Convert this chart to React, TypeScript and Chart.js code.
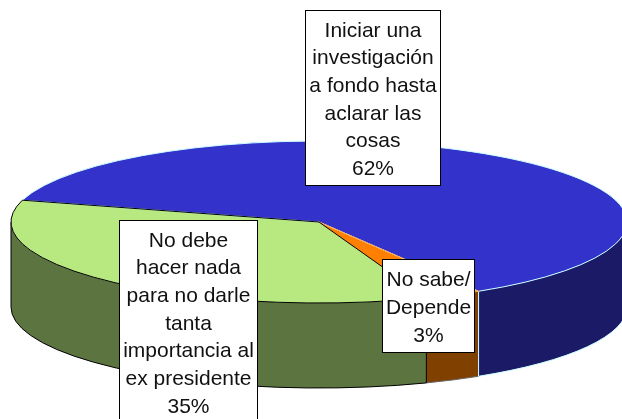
import React, { useEffect, useRef } from "react";
import { Chart, registerables } from "chart.js";

Chart.register(...registerables);

const categories = ["Iniciar una investigación a fondo hasta aclarar las cosas", "No sabe/Depende", "No debe hacer nada para no darle tanta importancia al ex presidente"];
const values = [62, 3, 35];
const topColors = ["#3333CC", "#FF8000", "#B8E880"];
const wallColors = ["#1A1A66", "#804000", "#5C7440"];
const edgeColors = ["#CCFFFF", "#FFA040", "#000000"];
const labelLines = [
  ["Iniciar una", "investigación", "a fondo hasta", "aclarar las", "cosas", "62%"],
  ["No sabe/", "Depende", "3%"],
  ["No debe", "hacer nada", "para no darle", "tanta", "importancia al", "ex presidente", "35%"],
];

// Pie projection
const CX = 319;
const CY = 222;
const RX = 308;
const RY = 81;
const DEPTH = 85;
const ROTATION = 285.6;

const boxes = [
  { x: 305, y: 10, w: 136, h: 176, first: 31, step: 27.6 },
  { x: 382, y: 259, w: 93, h: 94, first: 280, step: 28 },
  { x: 119, y: 220, w: 139, h: 210, first: 241, step: 27.67 },
];

function wallSpans(s: number, e: number): [number, number][] {
  const out: [number, number][] = [];
  for (const [a, b] of [[0, Math.PI], [2 * Math.PI, 3 * Math.PI]]) {
    const lo = Math.max(s, a);
    const hi = Math.min(e, b);
    if (hi > lo) out.push([lo, hi]);
  }
  return out;
}

const pie3d = {
  id: "pie3d",
  beforeDatasetDraw(chart: any, args: any) {
    const ctx = chart.ctx;
    const arcs = args.meta.data;
    ctx.save();
    ctx.lineWidth = 1;
    arcs.forEach((arc: any, i: number) => {
      for (const [a, b] of wallSpans(arc.startAngle, arc.endAngle)) {
        ctx.beginPath();
        ctx.ellipse(CX, CY, RX, RY, 0, a, b);
        ctx.lineTo(CX + RX * Math.cos(b), CY + DEPTH + RY * Math.sin(b));
        ctx.ellipse(CX, CY + DEPTH, RX, RY, 0, b, a, true);
        ctx.closePath();
        ctx.fillStyle = wallColors[i];
        ctx.fill();
      }
    });
    [1, 0, 2].forEach((i) => {
      const arc = arcs[i];
      for (const [a, b] of wallSpans(arc.startAngle, arc.endAngle)) {
        ctx.beginPath();
        ctx.moveTo(CX + RX * Math.cos(a), CY + RY * Math.sin(a));
        ctx.lineTo(CX + RX * Math.cos(a), CY + DEPTH + RY * Math.sin(a));
        ctx.ellipse(CX, CY + DEPTH, RX, RY, 0, a, b);
        ctx.lineTo(CX + RX * Math.cos(b), CY + RY * Math.sin(b));
        ctx.strokeStyle = i === 1 ? "#666666" : edgeColors[i];
        ctx.stroke();
      }
    });
    ctx.restore();
    const k = RY / RX;
    const ref = arcs[0];
    ctx.save();
    ctx.translate(CX, CY);
    ctx.scale(1, k);
    ctx.translate(-ref.x, -ref.y);
  },
  afterDatasetDraw(chart: any, args: any) {
    const ctx = chart.ctx;
    ctx.restore();
    ctx.save();
    ctx.lineWidth = 1;
    ctx.lineJoin = "round";
    [0, 1, 2].forEach((i) => {
      const arc = args.meta.data[i];
      ctx.beginPath();
      ctx.moveTo(CX, CY);
      ctx.ellipse(CX, CY, RX, RY, 0, arc.startAngle, arc.endAngle);
      ctx.closePath();
      ctx.strokeStyle = edgeColors[i];
      ctx.stroke();
    });
    ctx.restore();
  },
  afterDraw(chart: any) {
    const ctx = chart.ctx;
    ctx.save();
    ctx.font = "21px 'Liberation Sans', Arial, sans-serif";
    ctx.textAlign = "center";
    ctx.textBaseline = "middle";
    boxes.forEach((b, i) => {
      ctx.fillStyle = "#FFFFFF";
      ctx.fillRect(b.x, b.y, b.w, b.h);
      ctx.strokeStyle = "#000000";
      ctx.lineWidth = 1;
      ctx.strokeRect(b.x + 0.5, b.y + 0.5, b.w - 1, b.h - 1);
      ctx.fillStyle = "#111111";
      labelLines[i].forEach((t, j) => {
        ctx.fillText(t, b.x + b.w / 2, b.first + j * b.step);
      });
    });
    ctx.restore();
  },
};

export default function App() {
  const ref = useRef<HTMLCanvasElement | null>(null);
  useEffect(() => {
    const chart = new Chart(ref.current as HTMLCanvasElement, {
      type: "pie",
      data: {
        labels: categories,
        datasets: [
          {
            data: values,
            backgroundColor: topColors,
            borderWidth: 0,
            clip: false,
          } as any,
        ],
      },
      options: {
        responsive: false,
        animation: false,
        rotation: ROTATION,
        radius: RX,
        layout: { padding: 0 },
        plugins: { legend: { display: false }, tooltip: { enabled: false }, title: { display: false } },
      } as any,
      plugins: [pie3d],
    });
    return () => chart.destroy();
  }, []);
  return (
    <canvas
      ref={ref}
      width={622}
      height={419}
      style={{ position: "absolute", left: 0, top: 0, width: 622, height: 419, display: "block" }}
    />
  );
}
